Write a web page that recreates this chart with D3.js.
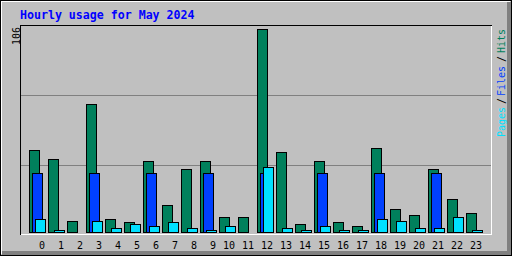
<!DOCTYPE html>
<html>
<head>
<meta charset="utf-8">
<script src="https://cdn.jsdelivr.net/npm/d3@7"></script>
<style>
  html, body { margin: 0; padding: 0; background: #c0c0c0; }
  svg { display: block; }
  text { font-family: "DejaVu Sans Mono", monospace; }
</style>
</head>
<body>
<svg id="chart" width="512" height="256"></svg>
<script>
// Webalizer-style hourly usage: hits / files / pages per hour of day.

const hours = d3.range(0, 24);
const hits  = [43, 38, 6, 67, 7, 5, 37, 14, 33, 37, 8, 8, 106, 42, 4, 37, 5, 3, 44, 12, 9, 33, 17, 10];
const files = [31, 0, 0, 31, 0, 0, 31, 0, 0, 31, 0, 0, 31, 0, 0, 31, 0, 0, 31, 0, 0, 31, 0, 0];
const pages = [7, 1, 0, 6, 2, 4, 3, 5, 2, 1, 3, 0, 34, 2, 1, 3, 1, 1, 7, 6, 2, 2, 8, 1];
const maxLabel = "106";
const title = "Hourly usage for May 2024";

const GREY = "#c0c0c0", DKGREY = "#808080";
const series = [
  { name: "Hits",  values: hits,  color: "#00805c", offset: 0 },
  { name: "Files", values: files, color: "#0040ff", offset: 3 },
  { name: "Pages", values: pages, color: "#00e0ff", offset: 6 }
];

const svg = d3.select("#chart");
const W = 512, H = 256;

// outer panel with 3D edges
svg.append("rect").attr("width", W).attr("height", H).attr("fill", GREY);
const edge = svg.append("g").attr("shape-rendering", "crispEdges");
edge.append("rect").attr("x", 507).attr("y", 2).attr("width", 4).attr("height", 253).attr("fill", DKGREY);
edge.append("rect").attr("x", 2).attr("y", 251).attr("width", 509).attr("height", 4).attr("fill", DKGREY);
edge.append("rect").attr("x", 0.5).attr("y", 0.5).attr("width", 511).attr("height", 255)
  .attr("fill", "none").attr("stroke", "#000");
edge.append("line").attr("x1", 1).attr("x2", 510).attr("y1", 1.5).attr("y2", 1.5).attr("stroke", "#fff");
edge.append("line").attr("x1", 1.5).attr("x2", 1.5).attr("y1", 1).attr("y2", 254).attr("stroke", "#fff");

// scales
const x = d3.scaleLinear().domain([0, 23]).range([29, 29 + 19 * 23]);
const y = d3.scaleLinear().domain([0, +maxLabel]).range([232, 29]);
const grid = d3.scaleLinear().domain([0, 3]).range([235, 25]);

// grid lines
edge.selectAll(".grid")
  .data([1, 2])
  .join("line")
  .attr("x1", 21).attr("x2", 491)
  .attr("y1", d => Math.round(grid(d)) + 0.5)
  .attr("y2", d => Math.round(grid(d)) + 0.5)
  .attr("stroke", DKGREY);

// bars: hits at the back, pages at the front
const bars = svg.append("g").attr("shape-rendering", "crispEdges");
series.forEach(s => {
  bars.selectAll(null)
    .data(hours.filter(h => s.values[h] > 0))
    .join("rect")
    .attr("x", h => x(h) + s.offset + 0.5)
    .attr("y", h => Math.round(y(s.values[h])) + 0.5)
    .attr("width", 10)
    .attr("height", h => y(0) - Math.round(y(s.values[h])))
    .attr("fill", s.color)
    .attr("stroke", "#000");
});

// sunken plot frame
const frame = svg.append("g").attr("shape-rendering", "crispEdges");
frame.append("line").attr("x1", 20).attr("x2", 492).attr("y1", 25.5).attr("y2", 25.5).attr("stroke", "#000");
frame.append("line").attr("x1", 20.5).attr("x2", 20.5).attr("y1", 25).attr("y2", 235).attr("stroke", "#000");
frame.append("line").attr("x1", 21).attr("x2", 492).attr("y1", 234.5).attr("y2", 234.5).attr("stroke", "#fff");
frame.append("line").attr("x1", 491.5).attr("x2", 491.5).attr("y1", 26).attr("y2", 235).attr("stroke", "#fff");

// title
svg.append("text")
  .attr("x", 20).attr("y", 19)
  .attr("font-size", 11.6).attr("font-weight", "bold")
  .attr("fill", "#0000ff")
  .text(title);

// hour labels
svg.selectAll(".hour")
  .data(hours)
  .join("text")
  .attr("x", h => x(h) + 16)
  .attr("y", 249)
  .attr("text-anchor", "end")
  .attr("font-size", 10)
  .attr("fill", "#000")
  .text(h => h);

// max value label, vertical
svg.append("text")
  .attr("transform", "translate(19.5,45) rotate(-90)")
  .attr("font-size", 10)
  .attr("fill", "#000")
  .text(maxLabel);

// legend, vertical on the right
const legend = [
  { t: "Pages", c: "#00e0ff", y0: 137 },
  { t: "/",     c: "#000",    y0: 104 },
  { t: "Files", c: "#0040ff", y0: 96 },
  { t: "/",     c: "#000",    y0: 62 },
  { t: "Hits",  c: "#00805c", y0: 53 }
];
svg.selectAll(".legend")
  .data(legend)
  .join("text")
  .attr("transform", d => `translate(504.5,${d.y0}) rotate(-90)`)
  .attr("font-size", 10)
  .attr("fill", d => d.c)
  .text(d => d.t);
</script>
</body>
</html>
